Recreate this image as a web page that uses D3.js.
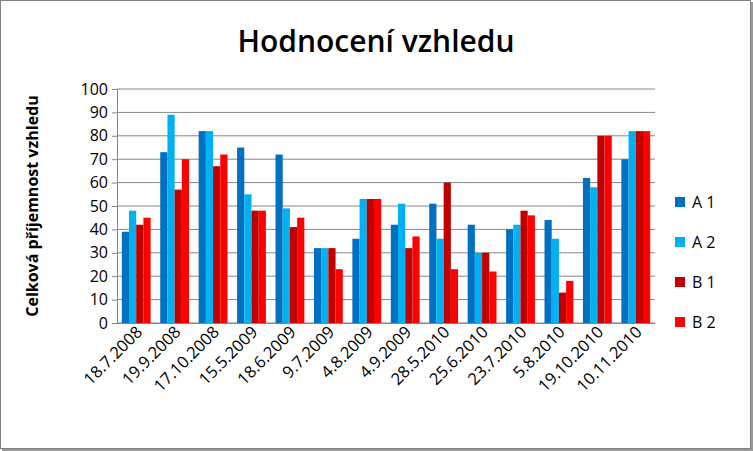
<!DOCTYPE html><html><head><meta charset="utf-8"><script src="https://cdn.jsdelivr.net/npm/d3@7"></script>
<style>body{margin:0;background:#fff}text{font-family:"Open Sans","Liberation Sans",sans-serif}</style></head><body><svg id="c" width="753" height="451"></svg><script>
const categories=["18.7.2008","19.9.2008","17.10.2008","15.5.2009","18.6.2009","9.7.2009","4.8.2009","4.9.2009","28.5.2010","25.6.2010","23.7.2010","5.8.2010","19.10.2010","10.11.2010"];
const seriesNames=["A 1","A 2","B 1","B 2"];
const A1=[39,73,82,75,72,32,36,42,51,42,40,44,62,70];
const A2=[48,89,82,55,49,32,53,51,36,30,42,36,58,82];
const B1=[42,57,67,48,41,32,53,32,60,30,48,13,80,82];
const B2=[45,70,72,48,45,23,53,37,23,22,46,18,80,82];
const yTicks=[0,10,20,30,40,50,60,70,80,90,100];
const colors=["#0070C0","#00B0F0","#C00000","#FF0000"];
const series=[A1,A2,B1,B2];
const svg=d3.select("#c");
svg.append("rect").attr("x",0.5).attr("y",0.5).attr("width",750).attr("height",448).attr("fill","#fff").attr("stroke","#808080");
svg.append("rect").attr("x",751).attr("y",2).attr("width",2).attr("height",449).attr("fill","#999");
svg.append("rect").attr("x",2).attr("y",449).attr("width",751).attr("height",2).attr("fill","#999");
const L=117,R=655,T=89,B=323;
const x=d3.scaleBand().domain(categories).range([L,R]).paddingInner(0.25).paddingOuter(0.125);
const xs=d3.scaleBand().domain(d3.range(4)).range([0,x.bandwidth()]);
const y=d3.scaleLinear().domain([0,100]).range([B,T]);
const g=svg.append("g");
g.selectAll(".gl").data(yTicks).join("line").attr("x1",L).attr("x2",R).attr("y1",d=>y(d)).attr("y2",d=>y(d)).attr("stroke","#868686");
series.forEach((s,i)=>{g.selectAll(".b"+i).data(s).join("rect").attr("x",(d,j)=>x(categories[j])+xs(i)).attr("width",xs.bandwidth()).attr("y",d=>y(d)).attr("height",d=>B-y(d)).attr("fill",colors[i]);});
const ya=svg.append("g").attr("transform",`translate(${L},0)`).call(d3.axisLeft(y).tickValues(yTicks).tickSize(5).tickPadding(4));
ya.selectAll("text").attr("font-size",16).attr("fill","#000");
ya.selectAll("line,path").attr("stroke","#868686");
const xa=svg.append("g").attr("transform",`translate(0,${B})`).call(d3.axisBottom(x).tickSizeOuter(0).tickSize(0));
xa.select("path").attr("stroke","#868686");
xa.selectAll("text").attr("font-size",16.5).attr("fill","#000").attr("text-anchor","end").attr("dy",0).attr("transform","translate(5,8) rotate(-45)");
svg.append("text").attr("x",376).attr("y",52).attr("text-anchor","middle").attr("font-size",30).attr("font-weight","600").text("Hodnocení vzhledu");
svg.append("text").attr("transform","translate(38,206) rotate(-90)").attr("text-anchor","middle").attr("font-size",16).attr("font-weight","bold").text("Celková příjemnost vzhledu");
seriesNames.forEach((n,i)=>{const yy=202+i*40;svg.append("rect").attr("x",675).attr("y",yy-5).attr("width",10).attr("height",10).attr("fill",colors[i]);svg.append("text").attr("x",692).attr("y",yy+6).attr("font-size",16).text(n);});
</script></body></html>
